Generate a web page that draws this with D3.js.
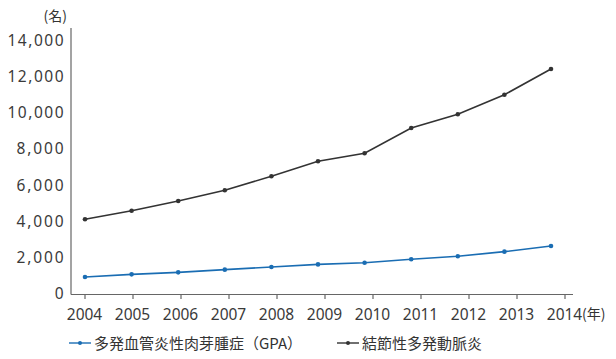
<!DOCTYPE html>
<html><head><meta charset="utf-8">
<script src="https://cdn.jsdelivr.net/npm/d3@7"></script>
<style>
html,body{margin:0;padding:0;background:#fff;}
svg text{font-family:"Noto Sans CJK JP","Noto Sans",sans-serif;fill:#333;}
svg text.num{font-family:"Noto Sans",sans-serif;fill:#3a3a3a;}
</style></head>
<body><svg id="c" width="616" height="359"></svg>
<script>
const years = [2004,2005,2006,2007,2008,2009,2010,2011,2012,2013,2014];
const gpa = [910,1060,1170,1320,1470,1610,1705,1895,2060,2315,2630];
const pan = [4110,4580,5120,5710,6490,7320,7760,9160,9920,11000,12420];
const yTicks = [0,2000,4000,6000,8000,10000,12000,14000];
const seriesNames = ["多発血管炎性肉芽腫症（GPA）","結節性多発動脈炎"];
const colors = ["#1a6db3","#333333"];

const svg = d3.select("#c");
const y = d3.scaleLinear().domain([0,14000]).range([293.5,40.5]);
const xAxisScale = d3.scaleLinear().domain([2004,2014]).range([85,565]);
const xPts = d3.scaleLinear().domain([2004,2014]).range([85,551]);

// axes lines
svg.append("line").attr("x1",71).attr("x2",71).attr("y1",28).attr("y2",294.5)
  .attr("stroke","#666").attr("stroke-width",1.2);
svg.append("line").attr("x1",71).attr("x2",573).attr("y1",294.5).attr("y2",294.5)
  .attr("stroke","#666").attr("stroke-width",1.2);

// x ticks
const xg = svg.append("g");
xg.selectAll("line").data(years).join("line")
  .attr("x1",d=>xAxisScale(d)).attr("x2",d=>xAxisScale(d))
  .attr("y1",294.5).attr("y2",299).attr("stroke","#666").attr("stroke-width",1.2);
xg.selectAll("text").data(years).join("text").attr("class","num")
  .attr("x",d=>xAxisScale(d)-0.5).attr("y",320).attr("text-anchor","middle")
  .attr("font-size",15.5).text(d=>d);
svg.append("text").attr("x",582).attr("y",319).attr("font-size",14).text("(年)");

// y labels
svg.append("g").selectAll("text").data(yTicks).join("text").attr("class","num")
  .attr("x",63.5).attr("y",d=>y(d)+5.5).attr("text-anchor","end")
  .attr("font-size",15.5)
  .each(function(d){ if(d>=10000) d3.select(this).attr("textLength",56).attr("lengthAdjust","spacing");
                     else if(d>0) d3.select(this).attr("textLength",47).attr("lengthAdjust","spacing"); })
  .text(d=>d3.format(",")(d));
svg.append("text").attr("x",67).attr("y",21).attr("text-anchor","end").attr("font-size",14).text("(名)");

// series
const line = d3.line().x((d,i)=>xPts(years[i])).y(d=>y(d));
[gpa,pan].forEach((s,k)=>{
  svg.append("path").datum(s).attr("d",line).attr("fill","none")
    .attr("stroke",colors[k]).attr("stroke-width",1.6);
  svg.append("g").selectAll("circle").data(s).join("circle")
    .attr("cx",(d,i)=>xPts(years[i])).attr("cy",d=>y(d)).attr("r",2.3)
    .attr("fill",colors[k]);
});

// legend
const legX = [69,337];
seriesNames.forEach((n,k)=>{
  const g = svg.append("g");
  g.append("line").attr("x1",legX[k]).attr("x2",legX[k]+22).attr("y1",343).attr("y2",343)
    .attr("stroke",colors[k]).attr("stroke-width",1.4);
  g.append("circle").attr("cx",legX[k]+11).attr("cy",343).attr("r",2).attr("fill",colors[k]);
  g.append("text").attr("x",legX[k]+25).attr("y",348.5).attr("font-size",15).text(n);
});
</script></body></html>
